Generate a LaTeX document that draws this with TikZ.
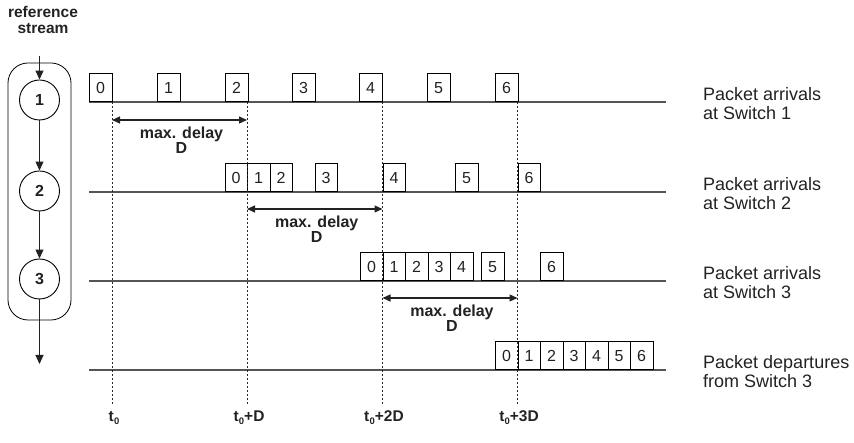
\documentclass[tikz,border=0pt]{standalone}
\usepackage{fontspec}
\setmainfont{Liberation Sans}
\usetikzlibrary{arrows.meta}
\definecolor{ink}{HTML}{222222}
\definecolor{rule}{HTML}{555555}
\newcommand{\tz}{t\kern0.2pt\raisebox{-3pt}{\fontsize{9.5}{9.5}\selectfont 0}}
\begin{document}
\begin{tikzpicture}[x=1pt,y=-1pt,
  pkt/.style={draw=black, line width=0.7pt, minimum width=22.5pt, minimum height=28pt,
    inner sep=0pt, anchor=south west, text=ink, font=\fontsize{16}{16}\selectfont},
  swc/.style={draw=black, circle, line width=0.9pt, minimum size=40pt, inner sep=0pt,
    text=ink, font=\fontsize{16}{16}\selectfont\bfseries},
  flow/.style={draw=ink, line width=1.1pt, -{Triangle[length=9pt,width=8pt]}},
  delayspan/.style={draw=ink, line width=1.1pt, {Triangle[length=8pt,width=7pt]}-{Triangle[length=8pt,width=7pt]}},
  timeline/.style={draw=rule, line width=1.3pt},
  tickline/.style={draw=black!85, line width=0.6pt, dash pattern=on 2pt off 2pt},
  rowlabel/.style={anchor=west, align=left, text=ink, inner sep=0pt, font=\fontsize{18}{18.4}\selectfont},
  delaylabel/.style={align=center, text=ink, font=\fontsize{16}{15}\selectfont\bfseries},
  timelabel/.style={text=ink, font=\fontsize{15.5}{15.5}\selectfont\bfseries, inner sep=1pt}
]
\useasboundingbox (0,0) rectangle (854,443);

% reference stream: switches 1-3 in a row
\node[align=center, text=ink, font=\fontsize{15.5}{16.5}\selectfont\bfseries] (title) at (43,20) {reference\\stream};
\node[draw=black, line width=0.8pt, rounded corners=20pt, minimum width=63pt, minimum height=257pt, inner sep=0pt] (group) at (39.5,191.5) {};
\node[swc] (s1) at (39.5,100) {1};
\node[swc] (s2) at (39.5,191) {2};
\node[swc] (s3) at (39.5,279) {3};
\coordinate (sin) at (39.5,56);
\coordinate (sout) at (39.5,364);
\draw[flow] (sin) -- (s1);
\draw[flow] (s1) -- (s2);
\draw[flow] (s2) -- (s3);
\draw[flow] (s3) -- (sout);

% time lines
\foreach \r/\y in {1/102, 2/192, 3/281, 4/370} {
  \coordinate (l\r a) at (89,\y);
  \coordinate (l\r b) at (666,\y);
  \draw[timeline] (l\r a) -- (l\r b);
}

% packets at each point
\foreach \p/\x in {0/89, 1/157, 2/225, 3/292, 4/359, 5/427, 6/495}
  \node[pkt] (a\p) at (\x,102) {\p};
\foreach \p/\x in {0/224.5, 1/247, 2/269.5, 3/314.5, 4/382.5, 5/455, 6/517.5}
  \node[pkt] (b\p) at (\x,192) {\p};
\foreach \p/\x in {0/360, 1/382.5, 2/405, 3/427.5, 4/450, 5/481, 6/540}
  \node[pkt] (c\p) at (\x,281) {\p};
\foreach \p/\x in {0/495, 1/517.5, 2/540, 3/562.5, 4/585, 5/607.5, 6/630}
  \node[pkt] (d\p) at (\x,370) {\p};

% time marks
\node[timelabel] (t0) at (114,418) {\tz};
\node[timelabel] (t1) at (249,418) {\tz+D};
\node[timelabel] (t2) at (384,418) {\tz+2D};
\node[timelabel] (t3) at (519,418) {\tz+3D};
\foreach \i/\x in {0/112, 1/247, 2/382.5, 3/517.5} {
  \coordinate (m\i top) at (\x,102);
  \coordinate (m\i bot) at (\x,404);
  \draw[tickline] (m\i top) -- (m\i bot);
}

% maximum delay spans
\foreach \i/\xa/\xb/\y in {1/112/247/120, 2/247/382.5/209, 3/382.5/517.5/298} {
  \coordinate (p\i l) at (\xa,\y);
  \coordinate (p\i r) at (\xb,\y);
  \draw[delayspan] (p\i l) -- (p\i r);
  \node[delaylabel] (q\i) at ({(\xa+\xb)/2+2},\y+20) {max. delay\\D};
}

% row captions
\node[rowlabel] (r1) at (703,103.5) {Packet arrivals\\at Switch 1};
\node[rowlabel] (r2) at (703,193.5) {Packet arrivals\\at Switch 2};
\node[rowlabel] (r3) at (703,282.5) {Packet arrivals\\at Switch 3};
\node[rowlabel] (r4) at (703,371.5) {Packet departures\\from Switch 3};
\end{tikzpicture}
\end{document}
